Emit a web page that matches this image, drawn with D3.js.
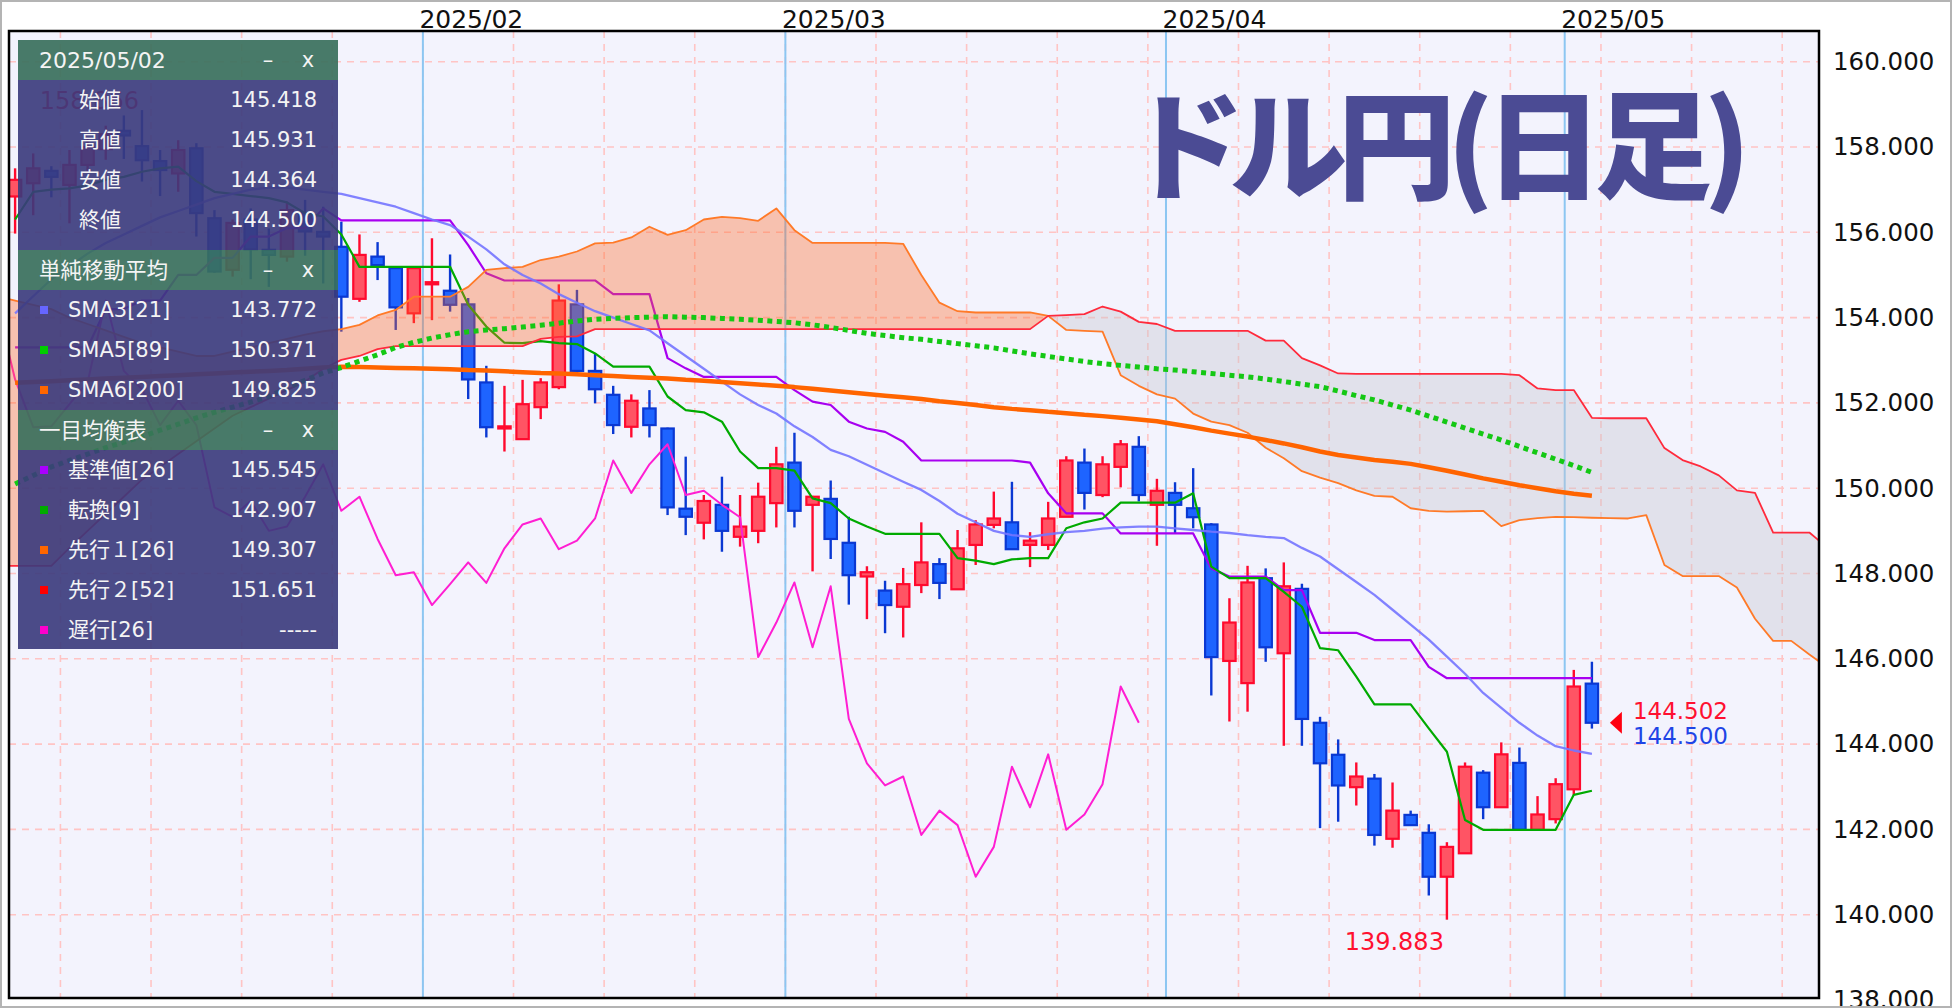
<!DOCTYPE html>
<html><head><meta charset="utf-8">
<script src="https://cdn.jsdelivr.net/npm/d3@7"></script>
<style>html,body{margin:0;padding:0;background:#fff;overflow:hidden}
.ttl{font-feature-settings:"palt" 1;}</style>
</head><body>
<svg id="c" width="1952" height="1008"></svg>
<script>
// ---------- data ----------
const monthLabels = ["2025/02","2025/03","2025/04","2025/05"];
const monthStart = [23,43,64,86];
const weekStart = [3,8,13,18,23,28,33,38,43,48,53,58,63,68,73,78,83,88,93,98];
const yTicks = [138,140,142,144,146,148,150,152,154,156,158,160];

const open = [156.84,157.15,157.44,157.11,157.58,157.95,158.38,158.02,157.67,157.38,
157.97,156.33,155.12,156.30,155.59,155.43,156.45,156.01,155.66,154.44,
155.43,155.16,154.10,154.78,154.63,154.31,152.48,151.40,151.15,151.90,
152.37,154.31,152.75,152.19,151.44,151.87,151.40,149.52,149.19,149.61,
148.86,149.00,149.65,150.60,149.61,149.75,148.72,147.93,147.60,147.22,
147.73,148.22,147.63,148.67,149.14,149.20,148.67,148.67,149.33,150.60,
149.84,150.50,150.97,149.61,149.89,149.53,149.15,145.95,145.43,147.89,
146.13,147.64,144.50,143.75,142.99,143.19,141.78,142.34,141.92,140.89,
141.44,143.33,142.52,143.56,141.99,142.24,142.94,145.418];
const high = [157.50,157.85,157.55,157.93,158.20,158.50,158.74,158.866,157.93,158.16,
158.09,156.52,156.30,156.56,156.09,156.72,156.76,156.60,156.25,155.95,
155.77,155.20,155.20,155.86,155.48,154.46,152.87,152.40,152.54,152.58,
154.78,154.65,153.16,152.40,152.20,152.30,151.42,150.74,149.84,150.27,
149.84,150.13,150.97,151.30,149.82,150.18,149.33,148.17,147.83,148.13,
149.20,148.36,149.02,149.25,149.92,150.15,148.97,149.68,150.75,150.93,
150.75,151.13,151.22,150.22,150.14,150.47,149.18,147.42,148.18,148.12,
148.26,147.76,144.64,144.11,143.57,143.30,143.10,142.44,142.12,141.70,
143.57,143.39,144.04,143.92,142.78,143.20,145.74,145.931];
const low = [155.97,156.40,156.82,156.21,157.40,157.70,157.72,157.19,156.85,156.95,
155.90,155.05,154.96,154.90,154.72,155.31,155.45,154.80,153.67,154.37,
154.88,153.71,153.87,153.94,154.14,152.09,151.19,150.86,151.15,151.62,
152.32,152.63,151.99,151.27,151.19,151.19,149.37,148.90,148.80,148.51,
148.63,148.71,149.08,149.08,148.05,148.34,147.27,146.93,146.60,146.50,
147.54,147.40,147.63,148.20,149.06,148.57,148.15,148.55,149.33,149.50,
149.79,150.02,149.69,148.65,148.93,149.06,145.14,144.53,144.76,145.93,
143.96,143.96,142.03,142.18,142.56,141.62,141.57,142.10,140.45,139.883,
141.44,142.24,142.52,141.99,141.99,142.14,142.81,144.364];
const close = [157.23,157.50,157.30,157.58,158.00,158.30,158.27,157.69,157.46,157.93,
156.45,155.08,156.22,155.60,155.47,156.52,156.02,155.90,154.49,155.47,
155.23,154.24,155.16,154.83,154.30,152.55,151.43,151.45,151.97,152.48,
154.40,152.75,152.32,151.48,152.05,151.48,149.55,149.33,149.70,149.00,
149.10,149.80,150.56,149.47,149.80,148.81,147.96,148.03,147.26,147.75,
148.26,147.78,148.59,149.15,149.29,148.57,148.77,149.29,150.65,149.89,
150.56,151.03,149.84,149.94,149.61,149.32,146.04,146.85,147.79,146.27,
147.70,144.59,143.55,143.03,143.24,141.87,142.44,142.10,140.89,141.59,
143.47,142.52,143.76,141.99,142.35,143.06,145.35,144.500];

const sma3 = [154.1,154.5,154.9,155.2,155.5,155.75,155.95,156.15,156.35,156.5,
156.65,156.8,156.9,157.0,157.05,157.05,157.0,156.95,156.9,156.8,
156.7,156.6,156.45,156.3,156.17,155.9,155.6,155.25,155.0,154.8,
154.55,154.35,154.15,154.0,153.85,153.7,153.4,153.1,152.8,152.5,
152.2,151.95,151.75,151.45,151.2,150.9,150.75,150.55,150.35,150.15,
149.96,149.7,149.4,149.2,149.0,148.9,148.86,148.92,148.97,149.0,
149.05,149.08,149.1,149.1,149.06,149.02,148.98,148.95,148.9,148.86,
148.83,148.6,148.4,148.1,147.8,147.5,147.15,146.8,146.45,146.05,
145.65,145.2,144.85,144.5,144.2,143.95,143.85,143.772];
const sma5 = [150.10,150.30,150.50,150.65,150.80,150.95,151.08,151.21,151.36,151.50,
151.65,151.78,151.90,152.02,152.15,152.35,152.53,152.70,152.83,152.98,
153.13,153.30,153.42,153.52,153.60,153.67,153.71,153.74,153.78,153.82,
153.87,153.92,153.96,153.98,154.00,154.01,154.02,154.01,154.00,153.98,
153.96,153.94,153.91,153.88,153.83,153.77,153.70,153.63,153.58,153.53,
153.49,153.44,153.39,153.34,153.29,153.22,153.15,153.09,153.03,152.97,
152.92,152.88,152.84,152.80,152.77,152.73,152.69,152.65,152.61,152.56,
152.50,152.44,152.38,152.28,152.17,152.07,151.95,151.83,151.69,151.55,
151.41,151.27,151.13,150.98,150.83,150.68,150.53,150.371];
const sma6 = [152.47,152.49,152.51,152.53,152.55,152.57,152.59,152.61,152.63,152.65,
152.67,152.69,152.71,152.73,152.75,152.77,152.80,152.83,152.85,152.84,
152.83,152.82,152.81,152.80,152.79,152.77,152.76,152.74,152.72,152.70,
152.69,152.67,152.65,152.63,152.61,152.59,152.57,152.54,152.52,152.49,
152.46,152.43,152.40,152.37,152.33,152.29,152.25,152.21,152.17,152.13,
152.09,152.04,152.00,151.95,151.90,151.86,151.83,151.79,151.76,151.72,
151.69,151.65,151.61,151.57,151.50,151.43,151.35,151.28,151.21,151.13,
151.05,150.96,150.86,150.78,150.72,150.66,150.62,150.57,150.49,150.41,
150.32,150.23,150.15,150.07,150.00,149.93,149.87,149.825];

const kijun = [153.3,153.3,153.3,153.3,153.3,154.2,154.2,154.4,154.4,155.0,
155.0,155.4,155.4,155.9,155.9,156.1,156.1,156.56,156.28,156.28,
156.28,156.28,156.28,156.28,156.28,155.7,155.04,154.87,154.87,154.87,
154.87,154.87,154.87,154.55,154.55,154.55,153.05,152.81,152.61,152.61,
152.61,152.61,152.61,152.30,152.03,151.95,151.56,151.40,151.32,151.09,
150.65,150.65,150.65,150.65,150.65,150.65,150.6,149.88,149.41,149.41,
149.41,148.94,148.94,148.94,148.94,148.94,148.12,147.93,147.93,147.93,
147.61,147.61,146.61,146.61,146.61,146.44,146.44,146.44,145.81,145.545,
145.545,145.545,145.545,145.545,145.545,145.545,145.545,145.545];
const tenkan = [156.3,156.95,157.0,157.03,157.1,157.23,157.3,157.42,157.5,157.54,
157.2,156.95,156.9,156.85,156.8,156.7,156.45,156.37,155.95,155.19,
155.19,155.19,155.19,155.19,155.19,154.3,153.79,153.41,153.4,153.45,
153.4,153.38,153.16,152.85,152.85,152.85,152.15,151.83,151.78,151.56,
150.86,150.47,150.47,150.41,149.76,149.65,149.29,149.1,148.93,148.93,
148.93,148.93,148.36,148.3,148.22,148.33,148.36,148.36,149.06,149.2,
149.29,149.66,149.66,149.66,149.66,149.88,148.16,147.89,147.89,147.89,
147.57,147.22,146.25,146.2,145.58,144.93,144.93,144.93,144.37,143.82,
142.22,141.99,141.99,141.99,141.99,141.99,142.81,142.907];

const SENKOU_START = -1;
const senkou1 = [154.5,154.4,154.3,154.2,154.0,153.85,153.7,153.55,153.4,153.3,153.2,
153.1,153.1,153.2,153.3,153.4,153.5,153.6,153.68,153.73,153.83,
154.05,154.18,154.49,154.49,154.49,154.72,155.12,155.16,155.19,155.35,
155.43,155.55,155.74,155.76,155.88,156.13,155.94,156.05,156.3,156.36,
156.33,156.27,156.56,156.05,155.75,155.75,155.75,155.75,155.75,155.73,
155.0,154.35,154.15,154.12,154.12,154.12,154.12,154.04,153.71,153.69,
153.67,152.65,152.4,152.2,152.1,151.75,151.56,151.48,151.3,150.95,
150.7,150.4,150.25,150.12,149.95,149.82,149.80,149.53,149.47,149.45,
149.46,149.47,149.11,149.25,149.30,149.33,149.32,149.307,149.30,149.29,
149.37,148.2,147.94,147.94,147.94,147.67,146.94,146.42,146.42,146.1,145.8];
const senkou2 = [148.18,148.18,148.18,148.18,148.6,149.0,149.4,149.8,150.2,150.5,150.8,
151.1,151.4,151.7,151.9,152.1,152.3,152.5,152.8,153.01,153.1,
153.26,153.33,153.33,153.33,153.33,153.33,153.33,153.33,153.33,153.5,
153.55,153.56,153.73,153.73,153.73,153.73,153.73,153.73,153.73,153.73,
153.73,153.73,153.73,153.73,153.73,153.73,153.73,153.73,153.73,153.73,
153.73,153.73,153.73,153.73,153.73,153.73,153.73,154.04,154.06,154.08,
154.26,154.14,153.90,153.85,153.69,153.69,153.69,153.69,153.69,153.46,
153.46,153.05,152.88,152.69,152.68,152.68,152.68,152.68,152.68,152.68,
152.68,152.68,152.68,152.65,152.34,152.30,152.30,151.651,151.64,151.64,
151.64,150.94,150.66,150.51,150.3,149.95,149.89,148.96,148.96,148.96,148.6];
const CHIKOU_SHIFT = 25;

const titleText = "ドル円(日足)";
const lastPrices = ["144.502","144.500"];
const panelDate = "2025/05/02";
const ohlcLabels = ["始値","高値","安値","終値"];
const ohlcValues = ["145.418","145.931","144.364","144.500"];
const smaLabels = ["SMA3[21]","SMA5[89]","SMA6[200]"];
const smaValues = ["143.772","150.371","149.825"];
const ichiLabels = ["基準値[26]","転換[9]","先行１[26]","先行２[52]","遅行[26]"];
const ichiValues = ["145.545","142.907","149.307","151.651","-----"];

// ---------- layout ----------
const W=1952,H=1008, PL=9, PT=31, PR=1819, PB=998;
const C = {red:"#ff5464", redS:"#ff0a2e", blue:"#1e64ff", blueS:"#0a38d2",
  sma3:"#7474ff", sma5:"#14c814", sma6:"#ff6400", kijun:"#a800f0", tenkan:"#00aa00",
  s1:"#ff7a28", s2:"#ff2a3c", chikou:"#ff1ed2", grid:"#ffc4c4", month:"#8cc6f2"};
const FONT = "'DejaVu Sans', 'Noto Sans CJK JP', sans-serif";

const x = d3.scaleLinear().domain([-0.3366, 99.53]).range([PL, PR]);
const y = d3.scaleLinear().domain([140,160]).range([914.7, 61.7]);

const svg = d3.select("#c");
svg.append("rect").attr("width",W).attr("height",H).attr("fill","#fff");
const defs = svg.append("defs");
defs.append("clipPath").attr("id","plotClip").append("rect")
  .attr("x",PL).attr("y",PT).attr("width",PR-PL).attr("height",PB-PT);

svg.append("rect").attr("x",PL).attr("y",PT).attr("width",PR-PL).attr("height",PB-PT).attr("fill","#f3f3fd");

const plot = svg.append("g").attr("clip-path","url(#plotClip)");

// grid
plot.selectAll(".hg").data(yTicks).join("line")
  .attr("x1",PL).attr("x2",PR).attr("y1",d=>y(d)).attr("y2",d=>y(d))
  .attr("stroke",C.grid).attr("stroke-width",1.6).attr("stroke-dasharray","7,6");
plot.selectAll(".vg").data(weekStart).join("line")
  .attr("x1",d=>x(d-0.5)).attr("x2",d=>x(d-0.5)).attr("y1",PT).attr("y2",PB)
  .attr("stroke",C.grid).attr("stroke-width",1.6).attr("stroke-dasharray","7,6");
plot.selectAll(".mg").data(monthStart).join("line")
  .attr("x1",d=>x(d-0.5)).attr("x2",d=>x(d-0.5)).attr("y1",PT).attr("y2",PB)
  .attr("stroke",C.month).attr("stroke-width",2);

// title (single text, proportional CJK metrics, spacing fitted to the reference width)
const title = svg.append("text").attr("class","ttl").attr("font-family","'Noto Sans CJK JP'")
  .attr("font-weight",900).attr("font-size",118).attr("fill","#4b4b94")
  .attr("x",1439).attr("y",190).attr("text-anchor","middle").text(titleText);
const tLen = title.node().getComputedTextLength();
const nCh = Array.from(titleText).length;
title.attr("letter-spacing", Math.max(-12, Math.min(20, (606 - tLen)/nCh)));

// candles
const candles = plot.append("g");
const idx = d3.range(open.length);
candles.selectAll("line").data(idx).join("line")
  .attr("x1",i=>x(i)).attr("x2",i=>x(i)).attr("y1",i=>y(high[i])).attr("y2",i=>y(low[i]))
  .attr("stroke",i=>close[i]>=open[i]?C.redS:C.blueS).attr("stroke-width",2.4);
candles.selectAll("rect").data(idx).join("rect")
  .attr("x",i=>x(i)-6.2).attr("width",12.4)
  .attr("y",i=>y(Math.max(open[i],close[i])))
  .attr("height",i=>Math.max(1.5, Math.abs(y(open[i])-y(close[i]))))
  .attr("fill",i=>close[i]>=open[i]?C.red:C.blue)
  .attr("stroke",i=>close[i]>=open[i]?C.redS:C.blueS).attr("stroke-width",2.2);

const line = (arr, start=0) => d3.line().x((d,k)=>x(k+start)).y(d=>y(d))(arr);
const addLine = (arr, col, w, start=0, dash=null) => {
  const p = plot.append("path").attr("d",line(arr,start)).attr("fill","none")
    .attr("stroke",col).attr("stroke-width",w).attr("stroke-linejoin","round");
  if (dash) p.attr("stroke-dasharray",dash);
  return p;
};

addLine(kijun, C.kijun, 2.2);
addLine(tenkan, C.tenkan, 2.2);
// chikou: closes drawn shifted back
addLine(close.slice(CHIKOU_SHIFT-1), C.chikou, 2, -1);

// cloud
const pts = senkou1.map((v,k)=>({i:k+SENKOU_START, a:v, b:senkou2[k]}));
defs.append("clipPath").attr("id","aboveB").append("path")
  .attr("d", d3.area().x(d=>x(d.i)).y0(0).y1(d=>y(d.b))(pts));
defs.append("clipPath").attr("id","belowB").append("path")
  .attr("d", d3.area().x(d=>x(d.i)).y0(H).y1(d=>y(d.b))(pts));
const cloudArea = d3.area().x(d=>x(d.i)).y0(d=>y(d.b)).y1(d=>y(d.a))(pts);
plot.append("g").attr("clip-path","url(#aboveB)").append("path").attr("d",cloudArea)
  .attr("fill","rgba(255,106,36,0.36)");
plot.append("g").attr("clip-path","url(#belowB)").append("path").attr("d",cloudArea)
  .attr("fill","rgba(196,196,206,0.38)");
addLine(senkou1, C.s1, 1.8, SENKOU_START);
addLine(senkou2, C.s2, 1.8, SENKOU_START);

addLine(sma3, C.sma3, 2.3).attr("opacity",0.9);
addLine(sma6, C.sma6, 4.5);
addLine(sma5, C.sma5, 5, 0, "5,4.5");

// hi / lo annotations
const iHi = d3.maxIndex(high), iLo = d3.minIndex(low);
plot.append("text").attr("x",x(iHi)-3).attr("y",y(high[iHi])-1).attr("text-anchor","end")
  .attr("font-family",FONT).attr("font-size",24).attr("fill","#ff1030").text(high[iHi].toFixed(3));
plot.append("text").attr("x",x(iLo)-3).attr("y",y(low[iLo])+30).attr("text-anchor","end")
  .attr("font-family",FONT).attr("font-size",24).attr("fill","#ff1030").text(low[iLo].toFixed(3));

// last price marker
const last = close.length-1, ly = y(close[last]);
plot.append("path").attr("d",`M${x(last)+18},${ly} L${x(last)+30},${ly-11} L${x(last)+30},${ly+11} Z`).attr("fill","#ff0010");
plot.append("text").attr("x",x(last)+41).attr("y",ly-4).attr("font-family",FONT).attr("font-size",23)
  .attr("fill","#ff1030").text(lastPrices[0]);
plot.append("text").attr("x",x(last)+41).attr("y",ly+21).attr("font-family",FONT).attr("font-size",23)
  .attr("fill","#1e44e6").text(lastPrices[1]);

// frame
svg.append("rect").attr("x",PL).attr("y",PT).attr("width",PR-PL).attr("height",PB-PT)
  .attr("fill","none").attr("stroke","#000").attr("stroke-width",2.5);

// axes
const rAxis = d3.axisRight(y).tickValues(yTicks).tickFormat(d=>d.toFixed(3)).tickSize(0).tickPadding(14);
svg.append("g").attr("transform",`translate(${PR},0)`).call(rAxis)
  .call(g=>g.select(".domain").remove())
  .attr("font-family","'DejaVu Sans'").attr("font-size",24.5)
  .selectAll("text").attr("fill","#111");
const tAxis = d3.axisTop(x).tickValues(monthStart.map(m=>m-0.5)).tickFormat((d,k)=>monthLabels[k]).tickSize(0).tickPadding(3);
svg.append("g").attr("transform",`translate(0,${PT})`).call(tAxis)
  .call(g=>g.select(".domain").remove())
  .attr("font-family","'DejaVu Sans'").attr("font-size",25)
  .selectAll("text").attr("text-anchor","start").attr("dx",-4).attr("fill","#111");

// legend panel
const P = svg.append("g").attr("font-family",FONT).attr("fill","#f4f4f4");
const PX=18, PWd=320;
const HEAD="rgba(58,112,92,0.92)", BODY="rgba(58,58,124,0.91)";
function header(y0, label, size){
  P.append("rect").attr("x",PX).attr("y",y0).attr("width",PWd).attr("height",40).attr("fill",HEAD);
  P.append("text").attr("x",39).attr("y",y0+20).attr("dominant-baseline","central").attr("font-size",size).text(label);
  P.append("text").attr("x",268).attr("y",y0+20).attr("dominant-baseline","central").attr("text-anchor","middle").attr("font-size",21).text("–");
  P.append("text").attr("x",308).attr("y",y0+20).attr("dominant-baseline","central").attr("text-anchor","middle").attr("font-size",21).text("x");
}
function body(y0, h, labels, values, colors, lx){
  P.append("rect").attr("x",PX).attr("y",y0).attr("width",PWd).attr("height",h).attr("fill",BODY);
  labels.forEach((l,k)=>{
    const cy = y0+20+k*40;
    if (colors) P.append("rect").attr("x",40).attr("y",cy-4).attr("width",8).attr("height",8).attr("fill",colors[k]);
    P.append("text").attr("x",lx).attr("y",cy).attr("dominant-baseline","central").attr("font-size",21).text(l);
    P.append("text").attr("x",317).attr("y",cy).attr("dominant-baseline","central").attr("text-anchor","end").attr("font-size",21).text(values[k]);
  });
}
header(40, panelDate, 22);
body(80, 170, ohlcLabels, ohlcValues, null, 79);
header(250, "単純移動平均", 21.5);
body(290, 120, smaLabels, smaValues, ["#6666ff","#00cc00","#ff6600"], 68);
header(410, "一目均衡表", 21.5);
body(450, 199, ichiLabels, ichiValues, ["#aa00ff","#00aa00","#ff6600","#ff0000","#ff00cc"], 68);

// outer border
svg.append("rect").attr("x",1).attr("y",1).attr("width",W-2).attr("height",H-2)
  .attr("fill","none").attr("stroke","#b4b4b4").attr("stroke-width",2);
</script>
</body></html>
